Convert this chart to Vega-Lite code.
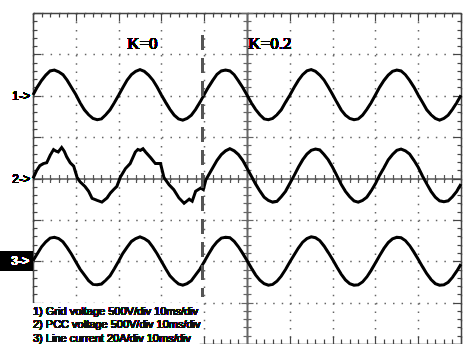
{
  "$schema": "https://vega.github.io/schema/vega-lite/v6.json",
  "width": 428,
  "height": 331,
  "autosize": {"type": "none"},
  "padding": {"left": 33, "top": 13, "right": 2, "bottom": 0},
  "background": "white",
  "config": {
    "view": {"stroke": null},
    "axis": {"labels": false, "title": null, "domainColor": "#444", "tickColor": "#444", "domainWidth": 1.5, "tickWidth": 1.2}
  },
  "data": {"values": [
    {"c":1,"t":0,"v":2.02},{"c":1,"t":1,"v":2.21},{"c":1,"t":2,"v":2.37},{"c":1,"t":3,"v":2.50},{"c":1,"t":4,"v":2.60},{"c":1,"t":5,"v":2.62},{"c":1,"t":6,"v":2.58},{"c":1,"t":7,"v":2.51},{"c":1,"t":8,"v":2.37},{"c":1,"t":9,"v":2.20},
    {"c":1,"t":10,"v":2.03},{"c":1,"t":11,"v":1.83},{"c":1,"t":12,"v":1.66},{"c":1,"t":13,"v":1.54},{"c":1,"t":14,"v":1.45},{"c":1,"t":15,"v":1.42},{"c":1,"t":16,"v":1.44},{"c":1,"t":17,"v":1.54},{"c":1,"t":18,"v":1.66},{"c":1,"t":19,"v":1.83},
    {"c":1,"t":20,"v":2.01},{"c":1,"t":21,"v":2.20},{"c":1,"t":22,"v":2.38},{"c":1,"t":23,"v":2.51},{"c":1,"t":24,"v":2.59},{"c":1,"t":25,"v":2.63},{"c":1,"t":26,"v":2.59},{"c":1,"t":27,"v":2.50},{"c":1,"t":28,"v":2.38},{"c":1,"t":29,"v":2.21},
    {"c":1,"t":30,"v":2.02},{"c":1,"t":31,"v":1.84},{"c":1,"t":32,"v":1.67},{"c":1,"t":33,"v":1.53},{"c":1,"t":34,"v":1.44},{"c":1,"t":35,"v":1.41},{"c":1,"t":36,"v":1.45},{"c":1,"t":37,"v":1.53},{"c":1,"t":38,"v":1.67},{"c":1,"t":39,"v":1.84},
    {"c":1,"t":40,"v":2.03},{"c":1,"t":41,"v":2.21},{"c":1,"t":42,"v":2.37},{"c":1,"t":43,"v":2.52},{"c":1,"t":44,"v":2.60},{"c":1,"t":45,"v":2.62},{"c":1,"t":46,"v":2.60},{"c":1,"t":47,"v":2.51},{"c":1,"t":48,"v":2.36},{"c":1,"t":49,"v":2.20},
    {"c":1,"t":50,"v":2.02},{"c":1,"t":51,"v":1.83},{"c":1,"t":52,"v":1.67},{"c":1,"t":53,"v":1.54},{"c":1,"t":54,"v":1.44},{"c":1,"t":55,"v":1.42},{"c":1,"t":56,"v":1.45},{"c":1,"t":57,"v":1.54},{"c":1,"t":58,"v":1.66},{"c":1,"t":59,"v":1.84},
    {"c":1,"t":60,"v":2.01},{"c":1,"t":61,"v":2.20},{"c":1,"t":62,"v":2.37},{"c":1,"t":63,"v":2.51},{"c":1,"t":64,"v":2.60},{"c":1,"t":65,"v":2.63},{"c":1,"t":66,"v":2.59},{"c":1,"t":67,"v":2.50},{"c":1,"t":68,"v":2.38},{"c":1,"t":69,"v":2.21},
    {"c":1,"t":70,"v":2.03},{"c":1,"t":71,"v":1.84},{"c":1,"t":72,"v":1.66},{"c":1,"t":73,"v":1.53},{"c":1,"t":74,"v":1.45},{"c":1,"t":75,"v":1.42},{"c":1,"t":76,"v":1.44},{"c":1,"t":77,"v":1.53},{"c":1,"t":78,"v":1.67},{"c":1,"t":79,"v":1.83},
    {"c":1,"t":80,"v":2.02},{"c":1,"t":81,"v":2.21},{"c":1,"t":82,"v":2.37},{"c":1,"t":83,"v":2.50},{"c":1,"t":84,"v":2.59},{"c":1,"t":85,"v":2.62},{"c":1,"t":86,"v":2.60},{"c":1,"t":87,"v":2.51},{"c":1,"t":88,"v":2.37},{"c":1,"t":89,"v":2.21},
    {"c":1,"t":90,"v":2.02},{"c":1,"t":91,"v":1.84},{"c":1,"t":92,"v":1.66},{"c":1,"t":93,"v":1.54},{"c":1,"t":94,"v":1.45},{"c":1,"t":95,"v":1.41},{"c":1,"t":96,"v":1.45},{"c":1,"t":97,"v":1.53},{"c":1,"t":98,"v":1.67},{"c":1,"t":99,"v":1.83},{"c":1,"t":100,"v":2.01},
    {"c":2,"t":0,"v":0.00},{"c":2,"t":0.8,"v":0.18},{"c":2,"t":1.6,"v":0.31},{"c":2,"t":2.4,"v":0.36},{"c":2,"t":3.2,"v":0.38},{"c":2,"t":4.0,"v":0.56},{"c":2,"t":4.8,"v":0.70},{"c":2,"t":5.4,"v":0.66},{"c":2,"t":5.9,"v":0.64},{"c":2,"t":6.7,"v":0.75},
    {"c":2,"t":7.3,"v":0.66},{"c":2,"t":7.9,"v":0.52},{"c":2,"t":8.7,"v":0.38},{"c":2,"t":9.5,"v":0.30},{"c":2,"t":10.3,"v":0.03},{"c":2,"t":11.0,"v":-0.08},{"c":2,"t":12.2,"v":-0.20},{"c":2,"t":13.0,"v":-0.31},{"c":2,"t":13.8,"v":-0.48},{"c":2,"t":15.0,"v":-0.53},
    {"c":2,"t":16.1,"v":-0.57},{"c":2,"t":17.3,"v":-0.47},{"c":2,"t":18.1,"v":-0.35},{"c":2,"t":18.8,"v":-0.27},{"c":2,"t":19.6,"v":-0.19},{"c":2,"t":20.4,"v":0.03},{"c":2,"t":21.6,"v":0.24},{"c":2,"t":22.7,"v":0.36},{"c":2,"t":23.9,"v":0.64},{"c":2,"t":24.5,"v":0.70},
    {"c":2,"t":25.1,"v":0.68},{"c":2,"t":25.7,"v":0.72},{"c":2,"t":26.3,"v":0.64},{"c":2,"t":27.5,"v":0.50},{"c":2,"t":28.6,"v":0.36},{"c":2,"t":29.8,"v":0.36},{"c":2,"t":30.6,"v":0.02},{"c":2,"t":31.8,"v":-0.15},{"c":2,"t":32.9,"v":-0.27},{"c":2,"t":34.1,"v":-0.47},
    {"c":2,"t":35.3,"v":-0.60},{"c":2,"t":36.5,"v":-0.50},{"c":2,"t":37.2,"v":-0.55},{"c":2,"t":38.0,"v":-0.31},{"c":2,"t":39.2,"v":-0.23},{"c":2,"t":39.8,"v":-0.27},{"c":2,"t":40.4,"v":-0.03},
    {"c":2,"t":41,"v":0.08},{"c":2,"t":42,"v":0.26},{"c":2,"t":43,"v":0.44},{"c":2,"t":44,"v":0.58},{"c":2,"t":45,"v":0.67},{"c":2,"t":46,"v":0.72},{"c":2,"t":47,"v":0.67},{"c":2,"t":48,"v":0.58},{"c":2,"t":49,"v":0.44},{"c":2,"t":50,"v":0.25},
    {"c":2,"t":51,"v":0.06},{"c":2,"t":52,"v":-0.13},{"c":2,"t":53,"v":-0.30},{"c":2,"t":54,"v":-0.45},{"c":2,"t":55,"v":-0.53},{"c":2,"t":56,"v":-0.57},{"c":2,"t":57,"v":-0.55},{"c":2,"t":58,"v":-0.44},{"c":2,"t":59,"v":-0.31},{"c":2,"t":60,"v":-0.12},
    {"c":2,"t":61,"v":0.07},{"c":2,"t":62,"v":0.27},{"c":2,"t":63,"v":0.45},{"c":2,"t":64,"v":0.59},{"c":2,"t":65,"v":0.68},{"c":2,"t":66,"v":0.71},{"c":2,"t":67,"v":0.69},{"c":2,"t":68,"v":0.58},{"c":2,"t":69,"v":0.45},{"c":2,"t":70,"v":0.27},
    {"c":2,"t":71,"v":0.07},{"c":2,"t":72,"v":-0.14},{"c":2,"t":73,"v":-0.31},{"c":2,"t":74,"v":-0.44},{"c":2,"t":75,"v":-0.54},{"c":2,"t":76,"v":-0.57},{"c":2,"t":77,"v":-0.53},{"c":2,"t":78,"v":-0.45},{"c":2,"t":79,"v":-0.30},{"c":2,"t":80,"v":-0.13},
    {"c":2,"t":81,"v":0.08},{"c":2,"t":82,"v":0.26},{"c":2,"t":83,"v":0.45},{"c":2,"t":84,"v":0.58},{"c":2,"t":85,"v":0.68},{"c":2,"t":86,"v":0.71},{"c":2,"t":87,"v":0.67},{"c":2,"t":88,"v":0.59},{"c":2,"t":89,"v":0.44},{"c":2,"t":90,"v":0.27},
    {"c":2,"t":91,"v":0.06},{"c":2,"t":92,"v":-0.13},{"c":2,"t":93,"v":-0.31},{"c":2,"t":94,"v":-0.45},{"c":2,"t":95,"v":-0.54},{"c":2,"t":96,"v":-0.56},{"c":2,"t":97,"v":-0.54},{"c":2,"t":98,"v":-0.44},{"c":2,"t":99,"v":-0.31},{"c":2,"t":100,"v":-0.13},
    {"c":3,"t":0,"v":-1.99},{"c":3,"t":1,"v":-1.82},{"c":3,"t":2,"v":-1.65},{"c":3,"t":3,"v":-1.53},{"c":3,"t":4,"v":-1.44},{"c":3,"t":5,"v":-1.42},{"c":3,"t":6,"v":-1.45},{"c":3,"t":7,"v":-1.53},{"c":3,"t":8,"v":-1.67},{"c":3,"t":9,"v":-1.83},
    {"c":3,"t":10,"v":-2.01},{"c":3,"t":11,"v":-2.19},{"c":3,"t":12,"v":-2.33},{"c":3,"t":13,"v":-2.47},{"c":3,"t":14,"v":-2.56},{"c":3,"t":15,"v":-2.57},{"c":3,"t":16,"v":-2.55},{"c":3,"t":17,"v":-2.46},{"c":3,"t":18,"v":-2.35},{"c":3,"t":19,"v":-2.18},
    {"c":3,"t":20,"v":-2.00},{"c":3,"t":21,"v":-1.81},{"c":3,"t":22,"v":-1.66},{"c":3,"t":23,"v":-1.52},{"c":3,"t":24,"v":-1.45},{"c":3,"t":25,"v":-1.41},{"c":3,"t":26,"v":-1.45},{"c":3,"t":27,"v":-1.52},{"c":3,"t":28,"v":-1.66},{"c":3,"t":29,"v":-1.82},
    {"c":3,"t":30,"v":-2.00},{"c":3,"t":31,"v":-2.18},{"c":3,"t":32,"v":-2.35},{"c":3,"t":33,"v":-2.46},{"c":3,"t":34,"v":-2.55},{"c":3,"t":35,"v":-2.58},{"c":3,"t":36,"v":-2.54},{"c":3,"t":37,"v":-2.47},{"c":3,"t":38,"v":-2.33},{"c":3,"t":39,"v":-2.19},
    {"c":3,"t":40,"v":-2.01},{"c":3,"t":41,"v":-1.83},{"c":3,"t":42,"v":-1.66},{"c":3,"t":43,"v":-1.53},{"c":3,"t":44,"v":-1.44},{"c":3,"t":45,"v":-1.42},{"c":3,"t":46,"v":-1.43},{"c":3,"t":47,"v":-1.52},{"c":3,"t":48,"v":-1.65},{"c":3,"t":49,"v":-1.81},
    {"c":3,"t":50,"v":-1.98},{"c":3,"t":51,"v":-2.16},{"c":3,"t":52,"v":-2.33},{"c":3,"t":53,"v":-2.46},{"c":3,"t":54,"v":-2.54},{"c":3,"t":55,"v":-2.58},{"c":3,"t":56,"v":-2.56},{"c":3,"t":57,"v":-2.48},{"c":3,"t":58,"v":-2.36},{"c":3,"t":59,"v":-2.20},
    {"c":3,"t":60,"v":-2.02},{"c":3,"t":61,"v":-1.85},{"c":3,"t":62,"v":-1.68},{"c":3,"t":63,"v":-1.54},{"c":3,"t":64,"v":-1.45},{"c":3,"t":65,"v":-1.41},{"c":3,"t":66,"v":-1.43},{"c":3,"t":67,"v":-1.50},{"c":3,"t":68,"v":-1.63},{"c":3,"t":69,"v":-1.79},
    {"c":3,"t":70,"v":-1.96},{"c":3,"t":71,"v":-2.14},{"c":3,"t":72,"v":-2.31},{"c":3,"t":73,"v":-2.45},{"c":3,"t":74,"v":-2.54},{"c":3,"t":75,"v":-2.58},{"c":3,"t":76,"v":-2.57},{"c":3,"t":77,"v":-2.50},{"c":3,"t":78,"v":-2.38},{"c":3,"t":79,"v":-2.22},
    {"c":3,"t":80,"v":-2.04},{"c":3,"t":81,"v":-1.86},{"c":3,"t":82,"v":-1.69},{"c":3,"t":83,"v":-1.55},{"c":3,"t":84,"v":-1.46},{"c":3,"t":85,"v":-1.42},{"c":3,"t":86,"v":-1.43},{"c":3,"t":87,"v":-1.50},{"c":3,"t":88,"v":-1.62},{"c":3,"t":89,"v":-1.78},
    {"c":3,"t":90,"v":-1.95},{"c":3,"t":91,"v":-2.13},{"c":3,"t":92,"v":-2.30},{"c":3,"t":93,"v":-2.44},{"c":3,"t":94,"v":-2.54},{"c":3,"t":95,"v":-2.58},{"c":3,"t":96,"v":-2.57},{"c":3,"t":97,"v":-2.51},{"c":3,"t":98,"v":-2.39},{"c":3,"t":99,"v":-2.24},{"c":3,"t":100,"v":-2.07}
  ]},
  "layer": [
    {
      "mark": {"type": "line", "color": "black", "strokeWidth": 3},
      "encoding": {
        "x": {"field": "t", "type": "quantitative", "scale": {"domain": [0, 100], "nice": false, "zero": false},
          "axis": {"orient": "bottom", "values": [0,2,4,6,8,10,12,14,16,18,20,22,24,26,28,30,32,34,36,38,40,42,44,46,48,50,52,54,56,58,60,62,64,66,68,70,72,74,76,78,80,82,84,86,88,90,92,94,96,98,100],
            "tickSize": {"condition": {"test": "datum.value % 10 === 0", "value": -8}, "value": -5},
            "grid": true, "gridColor": "#666", "gridWidth": 1.5, "gridDash": [1.5, 6.775],
            "gridOpacity": {"condition": {"test": "datum.value % 10 === 0", "value": 1}, "value": 0}}},
        "y": {"field": "v", "type": "quantitative", "scale": {"domain": [-4, 4], "nice": false, "zero": false},
          "axis": {"orient": "left", "values": [-4,-3.8,-3.6,-3.4,-3.2,-3,-2.8,-2.6,-2.4,-2.2,-2,-1.8,-1.6,-1.4,-1.2,-1,-0.8,-0.6,-0.4,-0.2,0,0.2,0.4,0.6,0.8,1,1.2,1.4,1.6,1.8,2,2.2,2.4,2.6,2.8,3,3.2,3.4,3.6,3.8,4],
            "tickSize": {"condition": {"test": "abs(datum.value - round(datum.value)) < 0.01", "value": -8}, "value": -4},
            "grid": true, "gridColor": "#666", "gridWidth": 1.5, "gridDash": [1.5, 7.06],
            "gridOpacity": {"condition": {"test": "abs(datum.value - round(datum.value)) < 0.01", "value": 1}, "value": 0}}},
        "detail": {"field": "c"}
      }
    },
    {
      "mark": {"type": "line", "opacity": 0},
      "encoding": {
        "x": {"field": "t", "type": "quantitative",
          "axis": {"orient": "top", "values": [0,2,4,6,8,10,12,14,16,18,20,22,24,26,28,30,32,34,36,38,40,42,44,46,48,50,52,54,56,58,60,62,64,66,68,70,72,74,76,78,80,82,84,86,88,90,92,94,96,98,100],
            "tickSize": {"condition": {"test": "datum.value % 10 === 0", "value": -8}, "value": -4}, "grid": false}},
        "y": {"field": "v", "type": "quantitative",
          "axis": {"orient": "right", "values": [-4,-3.8,-3.6,-3.4,-3.2,-3,-2.8,-2.6,-2.4,-2.2,-2,-1.8,-1.6,-1.4,-1.2,-1,-0.8,-0.6,-0.4,-0.2,0,0.2,0.4,0.6,0.8,1,1.2,1.4,1.6,1.8,2,2.2,2.4,2.6,2.8,3,3.2,3.4,3.6,3.8,4],
            "tickSize": {"condition": {"test": "abs(datum.value - round(datum.value)) < 0.01", "value": -8}, "value": -4}, "grid": false}},
        "detail": {"field": "c"}
      }
    },
    {
      "mark": {"type": "line", "opacity": 0},
      "encoding": {
        "x": {"field": "t", "type": "quantitative",
          "axis": {"orient": "bottom", "offset": -165.5, "domainColor": "#555", "tickColor": "#555", "values": [0,2,4,6,8,10,12,14,16,18,20,22,24,26,28,30,32,34,36,38,40,42,44,46,48,50,52,54,56,58,60,62,64,66,68,70,72,74,76,78,80,82,84,86,88,90,92,94,96,98,100],
            "tickSize": 4, "grid": false}},
        "y": {"field": "v", "type": "quantitative",
          "axis": {"orient": "left", "offset": -214, "domainColor": "#666", "domainWidth": 2, "tickColor": "#666", "values": [-4,-3.8,-3.6,-3.4,-3.2,-3,-2.8,-2.6,-2.4,-2.2,-2,-1.8,-1.6,-1.4,-1.2,-1,-0.8,-0.6,-0.4,-0.2,0,0.2,0.4,0.6,0.8,1,1.2,1.4,1.6,1.8,2,2.2,2.4,2.6,2.8,3,3.2,3.4,3.6,3.8,4],
            "tickSize": {"condition": {"test": "abs(datum.value - round(datum.value)) < 0.01", "value": 6}, "value": 4}, "grid": false}},
        "detail": {"field": "c"}
      }
    },
    {
      "mark": {"type": "line", "opacity": 0},
      "encoding": {
        "x": {"field": "t", "type": "quantitative",
          "axis": {"orient": "bottom", "offset": -165.5, "domain": false, "tickColor": "#555", "values": [0,2,4,6,8,10,12,14,16,18,20,22,24,26,28,30,32,34,36,38,40,42,44,46,48,50,52,54,56,58,60,62,64,66,68,70,72,74,76,78,80,82,84,86,88,90,92,94,96,98,100],
            "tickSize": -4, "grid": false}},
        "y": {"field": "v", "type": "quantitative",
          "axis": {"orient": "left", "offset": -214, "domain": false, "tickColor": "#666", "values": [-4,-3.8,-3.6,-3.4,-3.2,-3,-2.8,-2.6,-2.4,-2.2,-2,-1.8,-1.6,-1.4,-1.2,-1,-0.8,-0.6,-0.4,-0.2,0,0.2,0.4,0.6,0.8,1,1.2,1.4,1.6,1.8,2,2.2,2.4,2.6,2.8,3,3.2,3.4,3.6,3.8,4],
            "tickSize": {"condition": {"test": "abs(datum.value - round(datum.value)) < 0.01", "value": -6}, "value": -4}, "grid": false}},
        "detail": {"field": "c"}
      }
    },
    {
      "mark": {"type": "rule", "color": "#555", "strokeWidth": 2, "strokeDash": [15, 8]},
      "encoding": {"x": {"datum": 39.5, "axis": null}, "y": {"datum": 3.47, "axis": null}, "y2": {"datum": -2.86}}
    },
    {
      "mark": {"type": "rect", "color": "white"},
      "encoding": {"x": {"datum": -0.7, "axis": null}, "x2": {"datum": 38.8}, "y": {"datum": -4, "axis": null}, "y2": {"datum": -3.03}}
    },
    {
      "mark": {"type": "text", "text": ["1) Grid voltage 500V/div 10ms/div", "2) PCC voltage 500V/div 10ms/div", "3) Line current 20A/div 10ms/div"], "align": "left", "baseline": "top", "font": "Liberation Sans", "fontSize": 11, "lineHeight": 13.3, "color": "#111"},
      "encoding": {"x": {"datum": 0, "axis": null}, "y": {"datum": -3.08, "axis": null}}
    },
    {
      "mark": {"type": "text", "text": "K=0", "align": "left", "baseline": "middle", "font": "Liberation Serif", "fontSize": 17, "color": "black"},
      "encoding": {"x": {"datum": 22, "axis": null}, "y": {"datum": 3.25, "axis": null}}
    },
    {
      "mark": {"type": "text", "text": "K=0.2", "align": "left", "baseline": "middle", "font": "Liberation Serif", "fontSize": 17, "color": "black"},
      "encoding": {"x": {"datum": 50.3, "axis": null}, "y": {"datum": 3.25, "axis": null}}
    },
    {
      "mark": {"type": "rect", "color": "black"},
      "encoding": {"x": {"datum": -7.8, "axis": null}, "x2": {"datum": -0.1}, "y": {"datum": -1.77, "axis": null}, "y2": {"datum": -2.23}}
    },
    {
      "mark": {"type": "text", "text": "1->", "align": "right", "baseline": "middle", "dx": -3, "font": "Liberation Sans", "fontSize": 12, "color": "black"},
      "encoding": {"x": {"datum": 0, "axis": null}, "y": {"datum": 2, "axis": null}}
    },
    {
      "mark": {"type": "text", "text": "2->", "align": "right", "baseline": "middle", "dx": -3, "font": "Liberation Sans", "fontSize": 12, "color": "black"},
      "encoding": {"x": {"datum": 0, "axis": null}, "y": {"datum": 0, "axis": null}}
    },
    {
      "mark": {"type": "text", "text": "3->", "align": "right", "baseline": "middle", "dx": -4, "font": "Liberation Sans", "fontSize": 12, "color": "white"},
      "encoding": {"x": {"datum": 0, "axis": null}, "y": {"datum": -2, "axis": null}}
    }
  ],
  "resolve": {"axis": {"x": "independent", "y": "independent"}}
}
